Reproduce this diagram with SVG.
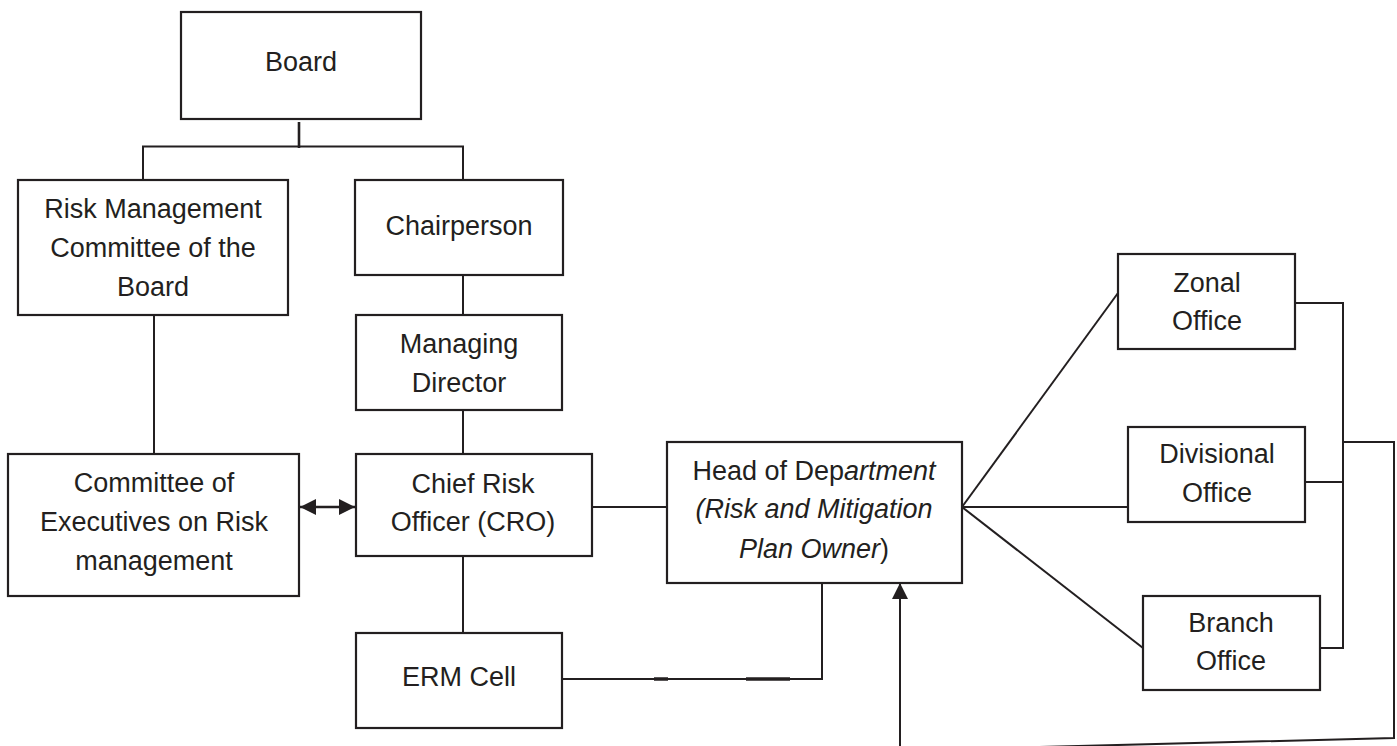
<svg xmlns="http://www.w3.org/2000/svg" width="1397" height="746" viewBox="0 0 1397 746">
<style>
  .box{fill:#fff;stroke:#231f20;stroke-width:2.2}
  .t{font-family:"Liberation Sans",Arial,sans-serif;font-size:27px;fill:#231f20;text-anchor:middle}
  .i{font-style:italic}
  .ln{fill:none;stroke:#231f20;stroke-width:2}
  .thick{stroke:#231f20;stroke-width:3.5}
</style>
<defs>
  <marker id="ah" markerUnits="userSpaceOnUse" markerWidth="16" markerHeight="16" refX="16" refY="8" orient="auto-start-reverse">
    <path d="M0,0 L16,8 L0,16 Z" fill="#231f20"/>
  </marker>
</defs>
<rect width="1397" height="746" fill="#fff"/>
<g id="connectors">
  <line class="ln" x1="299" y1="122" x2="299" y2="148" style="stroke-width:2.6"/>
  <polyline class="ln" points="143,180 143,146.5 463,146.5 463,180"/>
  <line class="ln" x1="463" y1="275" x2="463" y2="315"/>
  <line class="ln" x1="154" y1="315" x2="154" y2="454"/>
  <line class="ln" x1="463" y1="410" x2="463" y2="454"/>
  <line class="ln" x1="463" y1="556" x2="463" y2="633"/>
  <line class="ln" x1="300" y1="507" x2="355" y2="507" style="stroke-width:2.6" marker-start="url(#ah)" marker-end="url(#ah)"/>
  <line class="ln" x1="592" y1="507" x2="667" y2="507"/>
  <polyline class="ln" points="562,679 822,679 822,583"/>
  <line class="thick" x1="654" y1="679" x2="668" y2="679"/>
  <line class="thick" x1="746" y1="679" x2="790" y2="679"/>
  <line class="ln" x1="962" y1="507" x2="1118" y2="293"/>
  <line class="ln" x1="962" y1="507" x2="1128" y2="507"/>
  <line class="ln" x1="962" y1="507" x2="1143" y2="648"/>
  <polyline class="ln" points="1295,303 1343,303 1343,648 1320,648"/>
  <line class="ln" x1="1305" y1="482" x2="1343" y2="482"/>
  <polyline class="ln" points="1343,442 1394,442 1394,738 1000,748"/>
  <line class="ln" x1="900" y1="750" x2="900" y2="583" marker-end="url(#ah)"/>
</g>
<g id="board">
  <rect class="box" x="181" y="12" width="240" height="107"/>
  <text class="t" x="301" y="71">Board</text>
</g>
<g id="rmc">
  <rect class="box" x="18" y="180" width="270" height="135"/>
  <text class="t" x="153" y="218">Risk Management</text>
  <text class="t" x="153" y="257">Committee of the</text>
  <text class="t" x="153" y="296">Board</text>
</g>
<g id="chairperson">
  <rect class="box" x="355" y="180" width="208" height="95"/>
  <text class="t" x="459" y="235">Chairperson</text>
</g>
<g id="md">
  <rect class="box" x="356" y="315" width="206" height="95"/>
  <text class="t" x="459" y="353">Managing</text>
  <text class="t" x="459" y="392">Director</text>
</g>
<g id="cro">
  <rect class="box" x="356" y="454" width="236" height="102"/>
  <text class="t" x="473" y="493">Chief Risk</text>
  <text class="t" x="473" y="531">Officer (CRO)</text>
</g>
<g id="committee">
  <rect class="box" x="8" y="454" width="291" height="142"/>
  <text class="t" x="154" y="492">Committee of</text>
  <text class="t" x="154" y="531">Executives on Risk</text>
  <text class="t" x="154" y="570">management</text>
</g>
<g id="erm">
  <rect class="box" x="356" y="633" width="206" height="95"/>
  <text class="t" x="459" y="686">ERM Cell</text>
</g>
<g id="head">
  <rect class="box" x="667" y="442" width="295" height="141"/>
  <text class="t" x="814" y="480">Head of Dep<tspan class="i">artment</tspan></text>
  <text class="t i" x="814" y="518">(Risk and Mitigation</text>
  <text class="t" x="814" y="558"><tspan class="i">Plan Owner</tspan>)</text>
</g>
<g id="zonal">
  <rect class="box" x="1118" y="254" width="177" height="95"/>
  <text class="t" x="1207" y="292">Zonal</text>
  <text class="t" x="1207" y="330">Office</text>
</g>
<g id="divisional">
  <rect class="box" x="1128" y="427" width="177" height="95"/>
  <text class="t" x="1217" y="463">Divisional</text>
  <text class="t" x="1217" y="502">Office</text>
</g>
<g id="branch">
  <rect class="box" x="1143" y="596" width="177" height="94"/>
  <text class="t" x="1231" y="632">Branch</text>
  <text class="t" x="1231" y="670">Office</text>
</g>
</svg>
